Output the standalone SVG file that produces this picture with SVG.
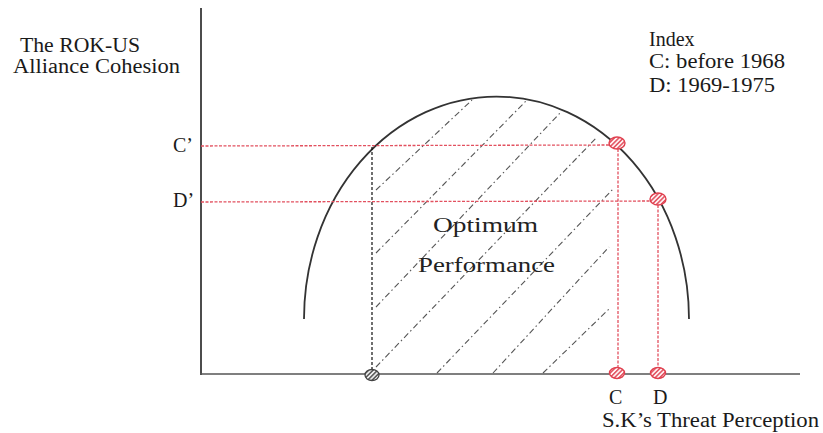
<svg xmlns="http://www.w3.org/2000/svg" width="823" height="433" viewBox="0 0 823 433">
<style>
  .t { font-family: "Liberation Serif", "Times New Roman", serif; font-size: 20px; fill: #1a1a1a; }
  .opt { font-family: "Liberation Serif", "Times New Roman", serif; font-size: 20px; fill: #222; }
  .axis { stroke: #111; stroke-width: 1.5; fill: none; }
  .xaxis { stroke: #555; stroke-width: 1.6; fill: none; }
  .curve { stroke: #333; stroke-width: 1.8; fill: none; }
  .red { stroke: #e2505f; stroke-width: 1.3; stroke-dasharray: 3 1.5; fill: none; }
  .blk { stroke: #111; stroke-width: 1.2; stroke-dasharray: 3 2; fill: none; }
  .hatch { stroke: #555; stroke-width: 1.1; stroke-dasharray: 6 3 1.5 3; fill: none; }
  .rdot { fill: url(#pr); stroke: #e0404f; stroke-width: 1.4; }
  .bdot { fill: url(#pb); stroke: #444; stroke-width: 1.3; }
</style>
<defs>
  <pattern id="pr" width="3.2" height="3.2" patternUnits="userSpaceOnUse" patternTransform="rotate(45)">
    <rect width="3.2" height="3.2" fill="#fff3f4"/>
    <rect width="1.5" height="3.2" fill="#e2505f"/>
  </pattern>
  <pattern id="pb" width="3.2" height="3.2" patternUnits="userSpaceOnUse" patternTransform="rotate(45)">
    <rect width="3.2" height="3.2" fill="#eeeeee"/>
    <rect width="1.5" height="3.2" fill="#555"/>
  </pattern>
</defs>
<rect width="823" height="433" fill="#fff"/>

<g id="axes">
  <line class="axis" x1="201" y1="8" x2="201" y2="375"/>
  <line class="xaxis" x1="200" y1="374" x2="800" y2="374"/>
</g>

<g id="curve">
  <path class="curve" d="M304,319 A192,222 0 0 1 689,319"/>
</g>

<g id="connectors">
  <g id="hatching">
    <line class="hatch" x1="376" y1="190" x2="472" y2="100"/>
    <line class="hatch" x1="376" y1="253" x2="527" y2="100"/>
    <line class="hatch" x1="376" y1="307" x2="560" y2="113"/>
    <line class="hatch" x1="376" y1="367" x2="597" y2="137"/>
    <line class="hatch" x1="437" y1="373" x2="614" y2="188"/>
    <line class="hatch" x1="493" y1="373" x2="609" y2="247"/>
    <line class="hatch" x1="543" y1="373" x2="610" y2="308"/>
  </g>
  <line class="blk" x1="372" y1="147" x2="372" y2="370"/>
  <line class="red" x1="201" y1="146" x2="610" y2="145"/>
  <line class="red" x1="201" y1="202" x2="650" y2="201"/>
  <line class="red" x1="618" y1="149" x2="618" y2="368"/>
  <line class="red" x1="658" y1="205" x2="658" y2="368"/>
</g>

<g id="node-origin"><ellipse class="bdot" cx="372" cy="375" rx="7" ry="5.5"/></g>
<g id="node-Cprime"><ellipse class="rdot" cx="617" cy="143" rx="8" ry="6"/></g>
<g id="node-Dprime"><ellipse class="rdot" cx="658" cy="199" rx="8" ry="6"/></g>
<g id="node-C"><ellipse class="rdot" cx="617" cy="373" rx="7.5" ry="5.5"/></g>
<g id="node-D"><ellipse class="rdot" cx="658" cy="373" rx="7.5" ry="5.5"/></g>

<g id="labels">
  <text class="t" x="20" y="52" textLength="120" lengthAdjust="spacingAndGlyphs">The ROK-US</text>
  <text class="t" x="13" y="73" textLength="167" lengthAdjust="spacingAndGlyphs">Alliance Cohesion</text>
  <text class="t" x="649" y="46">Index</text>
  <text class="t" x="649" y="68" textLength="136" lengthAdjust="spacingAndGlyphs">C: before 1968</text>
  <text class="t" x="649" y="92" textLength="126" lengthAdjust="spacingAndGlyphs">D: 1969-1975</text>
  <text class="t" x="173" y="152">C’</text>
  <text class="t" x="173" y="207">D’</text>
  <text class="opt" x="433" y="232" textLength="105" lengthAdjust="spacingAndGlyphs">Optimum</text>
  <text class="opt" x="418" y="272" textLength="137" lengthAdjust="spacingAndGlyphs">Performance</text>
  <text class="t" x="609" y="404">C</text>
  <text class="t" x="653" y="404">D</text>
  <text class="t" x="602" y="427" textLength="217" lengthAdjust="spacingAndGlyphs">S.K’s Threat Perception</text>
</g>
</svg>
